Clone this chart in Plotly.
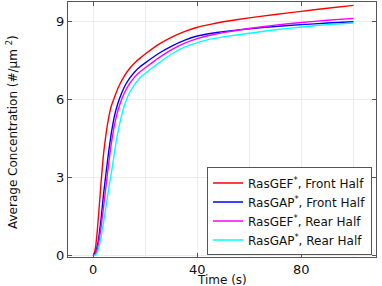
import plotly.graph_objects as go

time_s = [0, 0.5, 1, 1.5, 2, 2.5, 3, 3.5, 4, 5, 6, 7, 8, 9, 10, 12, 14, 16, 18, 20,
          25, 30, 35, 40, 45, 50, 60, 70, 80, 90, 100]

gef_front = [0, 0.12, 0.4, 0.9, 1.5, 2.15, 2.8, 3.4, 3.95, 4.75, 5.35, 5.78, 6.05, 6.32, 6.55, 6.92, 7.2, 7.42, 7.6, 7.76,
             8.12, 8.4, 8.62, 8.79, 8.9, 9.0, 9.15, 9.28, 9.4, 9.52, 9.63]
gap_front = [0, 0.05, 0.15, 0.35, 0.6, 1.0, 1.4, 1.9, 2.4, 3.25, 4.05, 4.75, 5.3, 5.7, 6.02, 6.5, 6.83, 7.08, 7.27, 7.42,
             7.77, 8.05, 8.28, 8.45, 8.55, 8.62, 8.73, 8.82, 8.89, 8.95, 9.0]
gef_rear = [0, 0.03, 0.1, 0.25, 0.45, 0.75, 1.1, 1.5, 1.9, 2.75, 3.6, 4.35, 4.95, 5.4, 5.75, 6.27, 6.62, 6.88, 7.08, 7.23,
            7.6, 7.92, 8.17, 8.35, 8.48, 8.58, 8.74, 8.87, 8.97, 9.06, 9.13]
gap_rear = [0, 0.01, 0.04, 0.12, 0.25, 0.45, 0.7, 1.0, 1.3, 1.95, 2.6, 3.2, 3.85, 4.5, 5.0, 5.8, 6.28, 6.6, 6.85, 7.02,
            7.4, 7.75, 8.02, 8.2, 8.33, 8.42, 8.56, 8.69, 8.8, 8.89, 8.95]

series_names = ["RasGEF<sup>*</sup>, Front Half", "RasGAP<sup>*</sup>, Front Half",
                "RasGEF<sup>*</sup>, Rear Half", "RasGAP<sup>*</sup>, Rear Half"]
series_values = [gef_front, gap_front, gef_rear, gap_rear]
series_colors = ["#ff0000", "#0000ff", "#ff00ff", "#00ffff"]

x_ticks = [0, 40, 80]
y_ticks = [0, 3, 6, 9]

fig = go.Figure()
for name, vals, col in zip(series_names, series_values, series_colors):
    fig.add_trace(go.Scatter(x=time_s, y=vals, mode="lines", name=name,
                             line=dict(color=col, width=1.4, shape="spline", smoothing=0.3)))

font = "DejaVu Sans, Verdana, sans-serif"
fig.update_layout(
    width=382, height=286,
    margin=dict(l=68, r=6, t=2, b=29),
    paper_bgcolor="white", plot_bgcolor="white",
    font=dict(family=font, size=12, color="#111"),
    showlegend=True,
    legend=dict(x=0.987, y=0.006, xanchor="right", yanchor="bottom",
                bgcolor="white", bordercolor="#555", borderwidth=1,
                font=dict(size=12, family=font), tracegroupgap=0,
                itemwidth=30),
)
fig.update_xaxes(
    range=[-9.7, 108.7], tickmode="array", tickvals=x_ticks,
    ticktext=[str(v) for v in x_ticks],
    showgrid=True, gridcolor="#ececec", gridwidth=1,
    minor=dict(dtick=20, tick0=0, showgrid=True, gridcolor="#ececec", ticks=""),
    ticks="inside", ticklen=4, tickcolor="#555",
    showline=True, linecolor="#555", linewidth=1, mirror="ticks",
    zeroline=False, tickfont=dict(size=13), automargin=False,
)
fig.update_yaxes(
    range=[-0.05, 9.76], tickmode="array", tickvals=y_ticks,
    ticktext=[str(v) for v in y_ticks],
    showgrid=True, gridcolor="#ececec", gridwidth=1,
    ticks="inside", ticklen=4, tickcolor="#555",
    showline=True, linecolor="#555", linewidth=1, mirror="ticks",
    zeroline=False, tickfont=dict(size=13), automargin=False,
)
fig.add_annotation(text="Time (s)", xref="paper", yref="paper", x=0.5, y=-0.092,
                   xanchor="center", yanchor="middle", showarrow=False,
                   font=dict(size=12, family=font, color="#111"))
fig.add_annotation(text="Average Concentration (#/µm <sup>2</sup>)", xref="paper", yref="paper",
                   x=-0.182, y=0.49, xanchor="center", yanchor="middle", textangle=-90,
                   showarrow=False, font=dict(size=12, family=font, color="#111"))

fig.write_html("out.html", config={"displayModeBar": False},
               post_script="document.body.style.margin='0';document.body.style.padding='0';")
